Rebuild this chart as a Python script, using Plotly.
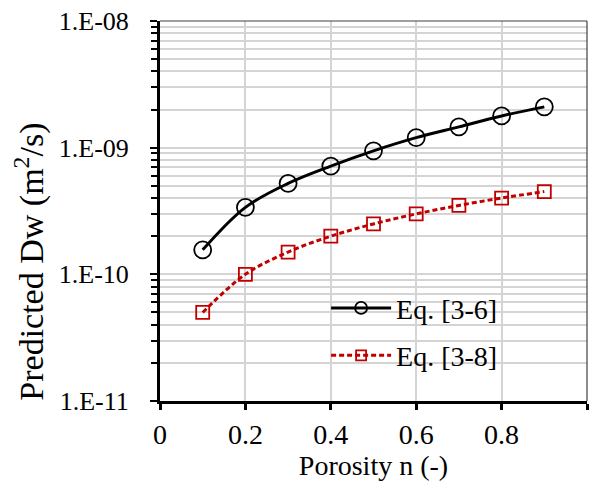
import plotly.graph_objects as go

# Porosity values and predicted water diffusivity (m^2/s)
porosity = [0.1, 0.2, 0.3, 0.4, 0.5, 0.6, 0.7, 0.8, 0.9]
dw_eq_3_6 = [1.56e-10, 3.38e-10, 5.22e-10, 7.15e-10, 9.44e-10, 1.20e-09, 1.46e-09, 1.78e-09, 2.10e-09]
dw_eq_3_8 = [5.0e-11, 1.0e-10, 1.5e-10, 2.0e-10, 2.5e-10, 3.0e-10, 3.5e-10, 4.0e-10, 4.5e-10]

series_names = ["Eq. [3-6]", "Eq. [3-8]"]
y_tick_vals = [1e-11, 1e-10, 1e-9, 1e-8]
y_tick_text = ["1.E-11", "1.E-10", "1.E-09", "1.E-08"]
x_tick_vals = [0, 0.2, 0.4, 0.6, 0.8, 1]
x_tick_text = ["0", "0.2", "0.4", "0.6", "0.8", "1"]

FONT = "Liberation Serif, Times New Roman, serif"
BLACK = "#000000"
RED = "#c00000"
GRID = "#d4d4d4"

# minor ticks on the log axis: 2..9 within each decade
minor_vals = [m * 10.0 ** e for e in range(-11, -8) for m in range(2, 10)]

fig = go.Figure()

fig.add_trace(go.Scatter(
    x=porosity, y=dw_eq_3_6, mode="lines+markers", name=series_names[0],
    line=dict(color=BLACK, width=3, shape="spline", smoothing=1),
    marker=dict(symbol="circle-open", size=17, color=BLACK, line=dict(width=1.8)),
    showlegend=False,
))
fig.add_trace(go.Scatter(
    x=porosity, y=dw_eq_3_8, mode="lines+markers", name=series_names[1],
    line=dict(color=RED, width=3, shape="spline", smoothing=1, dash="5px,3px"),
    marker=dict(symbol="square-open", size=13, color=RED, line=dict(width=1.8)),
    showlegend=False,
))

# legend entries with smaller symbols
fig.add_trace(go.Scatter(
    x=[None], y=[None], mode="lines+markers", name=series_names[0], legendgroup="a",
    line=dict(color=BLACK, width=3),
    marker=dict(symbol="circle-open", size=12, color=BLACK, line=dict(width=1.8)),
))
fig.add_trace(go.Scatter(
    x=[None], y=[None], mode="lines+markers", name=series_names[1], legendgroup="b",
    line=dict(color=RED, width=3, dash="5px,3px"),
    marker=dict(symbol="square-open", size=10, color=RED, line=dict(width=1.8)),
))

fig.update_layout(
    width=589, height=483,
    margin=dict(l=160, r=2, t=21, b=82),
    paper_bgcolor="white", plot_bgcolor="white",
    font=dict(family=FONT, size=28, color=BLACK),
    legend=dict(
        x=0.389, y=0.31, xanchor="left", yanchor="top",
        bgcolor="rgba(0,0,0,0)", itemwidth=60, tracegroupgap=8,
        font=dict(family=FONT, size=28, color=BLACK),
    ),
    xaxis=dict(
        range=[0, 1], tickvals=x_tick_vals, ticktext=x_tick_text,
        showline=True, linecolor=BLACK, linewidth=3,
        ticks="outside", ticklen=6, tickwidth=3, tickcolor=BLACK,
        showgrid=True, gridcolor=GRID, gridwidth=1.5, zeroline=False,
        ticklabelstandoff=0,
        tickfont=dict(family=FONT, size=28),
        title=dict(text="Porosity n (-)", font=dict(family=FONT, size=28), standoff=0),
    ),
    yaxis=dict(
        type="log", range=[-11, -8], tickvals=y_tick_vals, ticktext=y_tick_text,
        showline=True, linecolor=BLACK, linewidth=3,
        ticks="outside", ticklen=7, tickwidth=2, tickcolor=BLACK,
        showgrid=True, gridcolor=GRID, gridwidth=1.5, zeroline=False,
        ticklabelstandoff=16,
        tickfont=dict(family=FONT, size=26),
        minor=dict(tickvals=minor_vals, ticks="outside", ticklen=6, tickwidth=2,
                   tickcolor=BLACK, showgrid=True, gridcolor=GRID, gridwidth=1.5),
    ),
)

# vertical axis title, set lower than the plot-area centre
fig.add_annotation(
    text="Predicted Dw (m<sup>2</sup>/s)", textangle=-90,
    xref="paper", yref="paper", x=-0.305, y=0.366,
    xanchor="center", yanchor="middle", showarrow=False,
    font=dict(family=FONT, size=34, color=BLACK),
)

# thin frame along the top and right edges of the plot area
fig.add_shape(type="line", xref="paper", yref="paper", x0=0, x1=1, y0=1, y1=1,
              line=dict(color="#404040", width=1.2))
fig.add_shape(type="line", xref="paper", yref="paper", x0=1, x1=1, y0=0, y1=1,
              line=dict(color="#404040", width=1.2))

fig.write_html("out.html")
